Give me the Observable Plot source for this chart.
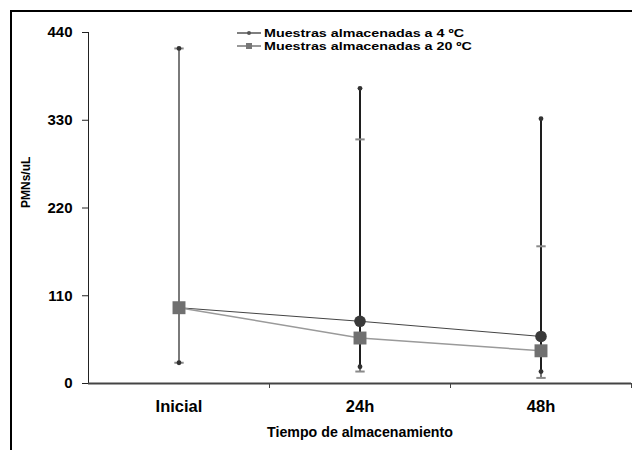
<!DOCTYPE html>
<html>
<head>
<meta charset="utf-8">
<script src="https://cdn.jsdelivr.net/npm/d3@7"></script>
<script src="https://cdn.jsdelivr.net/npm/@observablehq/plot@0.6"></script>
<style>
  html, body { margin: 0; padding: 0; background: #fff; }
  #wrap { position: relative; width: 632px; height: 450px; overflow: hidden; font-family: "Liberation Sans", Arial, sans-serif; }
  #frame { position: absolute; left: 10px; top: 10px; width: 700px; height: 500px; border-top: 2px solid #000; border-left: 2px solid #000; box-sizing: border-box; pointer-events: none; }
  #legend { position: absolute; left: 237px; top: 27px; font-weight: bold; font-size: 11px; line-height: 12.5px; color: #000; }
  #legend .row { display: flex; align-items: center; height: 12.5px; }
  #legend svg { margin-right: 2px; flex: none; }
  #legend span { display: inline-block; transform: scaleX(1.3); transform-origin: 0 50%; white-space: nowrap; }
  #chart { position: absolute; left: 0; top: 0; }
</style>
</head>
<body>
<div id="wrap">
  <div id="chart"></div>
  <div id="frame"></div>
  <div id="legend"></div>
</div>
<script>
const categories = ["Inicial", "24h", "48h"];
const seriesNames = ["Muestras almacenadas a 4 ºC", "Muestras almacenadas a 20 ºC"];
const mean4 = [95, 78, 59];
const low4 = [26, 21, 15];
const high4 = [420, 370, 332];
const mean20 = [95, 57, 41];
const low20 = [26, 15, 7];
const high20 = [420, 306, 172];
const yTicks = [0, 110, 220, 330, 440];
const yLabel = "PMNs/uL";
const xLabel = "Tiempo de almacenamiento";

const rows4 = categories.map((c, i) => ({x: i + 0.5, mean: mean4[i], low: low4[i], high: high4[i]}));
const rows20 = categories.map((c, i) => ({x: i + 0.5, mean: mean20[i], low: low20[i], high: high20[i]}));
const capEnds = rows => rows.flatMap(d => [{x: d.x, y: d.low}, {x: d.x, y: d.high}]);

const dash = { draw(ctx, size) { const w = Math.sqrt(size) * 1.2; ctx.moveTo(-w, -1); ctx.lineTo(w, -1); ctx.lineTo(w, 1); ctx.lineTo(-w, 1); ctx.closePath(); } };

const bold = "bold";
const chart = Plot.plot({
  width: 632,
  height: 450,
  marginLeft: 88,
  marginRight: 1,
  marginTop: 32,
  marginBottom: 67,
  style: { fontFamily: "'Liberation Sans', Arial, sans-serif", background: "transparent" },
  x: { type: "linear", domain: [0, 3] },
  y: { domain: [0, 440] },
  marks: [
    Plot.axisY({ ticks: yTicks, tickSize: 6, tickPadding: 10, fontSize: 15, fontWeight: bold, label: null, stroke: "#222" }),
    Plot.axisX({ ticks: [1, 2, 3], tickSize: 5, tickFormat: () => "", label: null, stroke: "#444" }),
    Plot.axisX({ ticks: categories.map((c, i) => i + 0.5), tickSize: 0, tickPadding: 17, tickFormat: v => categories[Math.floor(v)], fontSize: 16.5, fontWeight: bold, label: null }),
    Plot.text([xLabel], { frameAnchor: "bottom", dy: 53, fontSize: 14.2, fontWeight: bold, fill: "#000" }),
    Plot.text([yLabel], { frameAnchor: "left", dx: -62, rotate: -90, fontSize: 12, fontWeight: bold, fill: "#000" }),
    Plot.ruleX([0], { stroke: "#222", strokeWidth: 1 }),
    Plot.ruleY([0], { stroke: "#444", strokeWidth: 2 }),
    // error bars
    Plot.ruleX(rows20, { x: "x", y1: "low", y2: "high", stroke: "#7a7a7a", strokeWidth: 2 }),
    Plot.ruleX(rows4.slice(1), { x: "x", y1: "low", y2: "high", stroke: "#1e1e1e", strokeWidth: 2 }),
    Plot.dot(capEnds(rows20), { x: "x", y: "y", symbol: dash, r: 2.2, fill: "#8a8a8a", stroke: "none" }),
    Plot.dot(capEnds(rows4), { x: "x", y: "y", r: 2.4, fill: "#333", stroke: "none" }),
    // connecting lines
    Plot.line(rows4, { x: "x", y: "mean", stroke: "#444", strokeWidth: 1 }),
    Plot.line(rows20, { x: "x", y: "mean", stroke: "#9a9a9a", strokeWidth: 1.5 }),
    // markers
    Plot.dot(rows4, { x: "x", y: "mean", r: 5.8, fill: "#3a3a3a", stroke: "none" }),
    Plot.dot(rows20, { x: "x", y: "mean", symbol: "square", r: 7.3, fill: "#707070", stroke: "none" })
  ]
});
document.getElementById("chart").appendChild(chart);

const legend = document.getElementById("legend");
const icons = [
  '<svg width="25" height="8"><line x1="0" y1="4" x2="24" y2="4" stroke="#555" stroke-width="1.5"/><circle cx="12" cy="4" r="2" fill="#555"/></svg>',
  '<svg width="25" height="8"><line x1="0" y1="4" x2="24" y2="4" stroke="#777" stroke-width="1.5"/><rect x="9" y="1" width="6" height="6" fill="#777"/></svg>'
];
seriesNames.forEach((name, i) => {
  const row = document.createElement("div");
  row.className = "row";
  row.innerHTML = icons[i] + "<span>" + name + "</span>";
  legend.appendChild(row);
});
</script>
</body>
</html>
